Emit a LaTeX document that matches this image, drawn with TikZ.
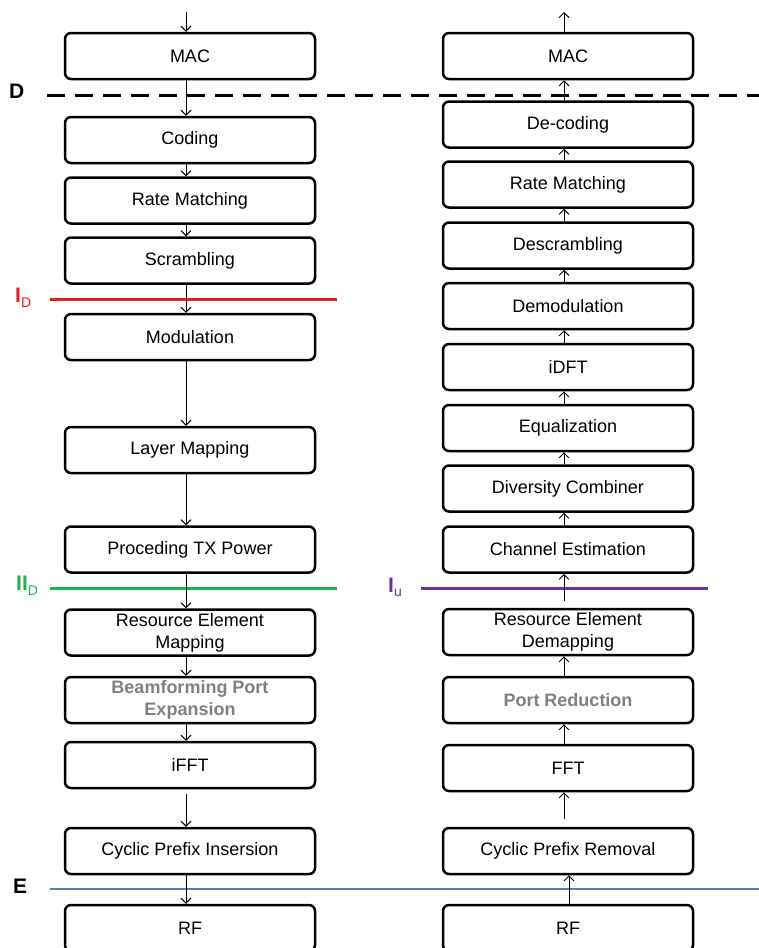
\documentclass[tikz,border=0pt]{standalone}
\usepackage{fontspec}
\setmainfont{Liberation Sans}
\usetikzlibrary{arrows.meta}
\definecolor{redl}{RGB}{237,28,36}
\definecolor{greenl}{RGB}{34,177,76}
\definecolor{purplel}{RGB}{112,48,160}
\definecolor{bluel}{RGB}{79,129,189}
\definecolor{grayt}{RGB}{128,128,128}
\begin{document}
\begin{tikzpicture}[x=1pt,y=-1pt,
  blk/.style={draw=black, line width=2.5pt, rounded corners=6pt, minimum width=250pt, minimum height=46pt, inner sep=0pt, align=center, font=\fontsize{18}{22}\selectfont},
  graytxt/.style={text=grayt, font=\fontsize{18}{22}\selectfont\bfseries},
  arr/.style={-{Straight Barb[length=5pt,width=10pt]}, line width=0.9pt},
  lbl/.style={inner sep=0pt, anchor=base west, font=\fontsize{21}{21}\selectfont\bfseries}]
\useasboundingbox (0,0) rectangle (759,948);
% separator lines
\draw[line width=3pt, dash pattern=on 18pt off 10pt] (47,95) -- (759,95);
\draw[redl, line width=3pt] (50,299) -- (337,299);
\draw[greenl, line width=3pt] (50,588) -- (337,588);
\draw[purplel, line width=3pt] (421,588) -- (708,588);
\draw[bluel, line width=1.2pt] (50,889) -- (759,889);
% labels
\node[lbl] (labD) at (9,98) {D};
\node[lbl, text=redl, font=\fontsize{21}{21}\selectfont] (labI) at (15,302) {\textbf{I}\raisebox{-5pt}{\fontsize{14}{14}\selectfont D}};
\node[lbl, text=greenl, font=\fontsize{21}{21}\selectfont] (labII) at (16,590) {\textbf{II}\raisebox{-5pt}{\fontsize{14}{14}\selectfont D}};
\node[lbl, text=purplel, font=\fontsize{21}{21}\selectfont] (labIu) at (388,592) {\textbf{I}\raisebox{-4pt}{\fontsize{14}{14}\selectfont u}};
\node[lbl] (labE) at (13,893) {E};
% left column
\node[blk] (lmac) at (190,56) {MAC};
\node[blk] (lcod) at (190,140) {Coding};
\node[blk] (lrm) at (190,200.5) {Rate Matching};
\node[blk] (lscr) at (190,260.5) {Scrambling};
\node[blk] (lmod) at (190,337) {Modulation};
\node[blk] (llm) at (190,450) {Layer Mapping};
\node[blk] (lptx) at (190,549.5) {Proceding TX Power};
\node[blk] (lrem) at (190,632.5) {Resource Element\\Mapping};
\node[blk, graytxt] (lbf) at (190,700) {Beamforming Port\\Expansion};
\node[blk] (lifft) at (190,765) {iFFT};
\node[blk] (lcp) at (190,851) {Cyclic Prefix Insersion};
\node[blk] (lrf) at (190,928) {RF};
% right column
\node[blk] (rmac) at (568,56) {MAC};
\node[blk] (rdec) at (568,124.5) {De-coding};
\node[blk] (rrm) at (568,184.5) {Rate Matching};
\node[blk] (rdes) at (568,245.5) {Descrambling};
\node[blk] (rdem) at (568,306) {Demodulation};
\node[blk] (ridft) at (568,367) {iDFT};
\node[blk] (req) at (568,428) {Equalization};
\node[blk] (rdc) at (568,488.5) {Diversity Combiner};
\node[blk] (rce) at (568,549.5) {Channel Estimation};
\node[blk] (rrem) at (568,632) {Resource Element\\Demapping};
\node[blk, graytxt] (rpr) at (568,700) {Port Reduction};
\node[blk] (rfft) at (568,768) {FFT};
\node[blk] (rcp) at (568,851) {Cyclic Prefix Removal};
\node[blk] (rrf) at (568,928) {RF};
% left arrows (downwards)
\coordinate (lin) at (186,12);
\draw[arr] (lin) -- ([xshift=-4pt]lmac.north);
\foreach \a/\b in {lmac/lcod, lcod/lrm, lrm/lscr, lscr/lmod, lmod/llm, llm/lptx, lptx/lrem, lrem/lbf, lbf/lifft, lcp/lrf}
  \draw[arr] ([xshift=-4pt]\a.south) -- ([xshift=-4pt]\b.north);
\draw[arr, shorten <=5pt] ([xshift=-4pt]lifft.south) -- ([xshift=-4pt]lcp.north);
% right arrows (upwards)
\coordinate (rout) at (564,12);
\draw[arr] ([xshift=-4pt]rmac.north) -- (rout);
\foreach \a/\b in {rdec/rmac, rrm/rdec, rdes/rrm, rdem/rdes, ridft/rdem, req/ridft, rdc/req, rce/rdc, rpr/rrem, rfft/rpr}
  \draw[arr] ([xshift=-4pt]\a.north) -- ([xshift=-4pt]\b.south);
\draw[arr, shorten <=7pt] ([xshift=-4pt]rrem.north) -- ([xshift=-4pt]rce.south);
\draw[arr, shorten <=8pt] ([xshift=-4pt]rcp.north) -- ([xshift=-4pt]rfft.south);
\draw[arr] ([xshift=1pt]rrf.north) -- ([xshift=1pt]rcp.south);
\end{tikzpicture}
\end{document}
